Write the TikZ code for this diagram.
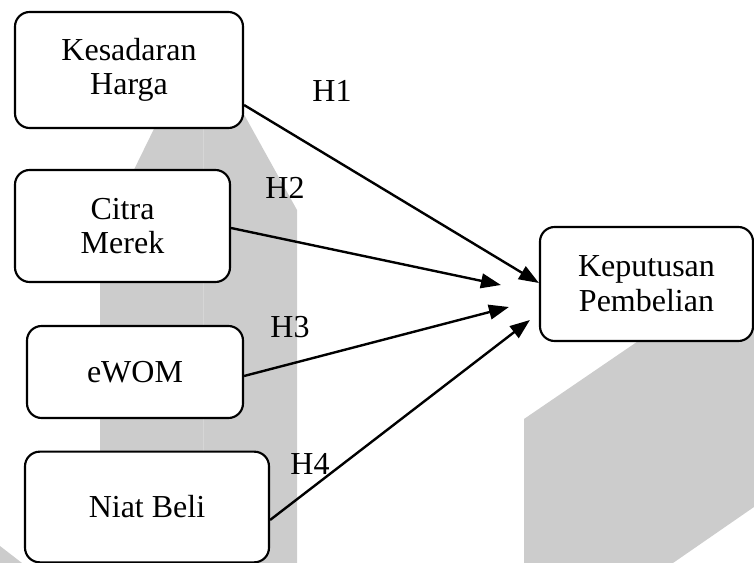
\documentclass[tikz,border=0pt]{standalone}
\usepackage{fontspec}
\setmainfont{Liberation Serif}
\usetikzlibrary{arrows.meta}

\tikzset{
  varbox/.style={draw=black, fill=white, line width=1.6pt, rounded corners=11pt, align=center, inner sep=2pt},
  hlink/.style={line width=1.8pt, -{Triangle[length=15pt,width=11pt]}},
  hlabel/.style={inner sep=0pt}
}

\begin{document}
\begin{tikzpicture}[x=0.75pt,y=0.75pt,yscale=-1,font=\fontsize{24}{26}\selectfont]
    \path[use as bounding box] (0,0) rectangle (754,563);

    %Shape: watermark left
    \fill[black!20] (100,563) -- (100,239) -- (200,35) -- (297,210) -- (297,563) -- cycle;
    \draw[black!16, line width=0.6pt] (203,40) -- (203,563);
    %Shape: watermark right
    \fill[black!20] (524,419) -- (754,262) -- (754,507) -- (673,563) -- (524,563) -- cycle;
    %Shape: watermark corner
    \fill[black!20] (0,546) -- (22,563) -- (0,563) -- cycle;

    % Boxes
    \node[varbox, minimum width=171pt, minimum height=87pt] (kh) at (129,70) {Kesadaran\\Harga};
    \node[varbox, minimum width=161.25pt, minimum height=84pt] (cm) at (122.5,226) {Citra\\Merek};
    \node[varbox, minimum width=162pt, minimum height=69pt] (ew) at (135,372) {eWOM};
    \node[varbox, minimum width=183pt, minimum height=83pt] (nb) at (147,507) {Niat Beli};
    \node[varbox, minimum width=159.75pt, minimum height=85.5pt] (kp) at (646.5,284) {Keputusan\\Pembelian};

    % arrow ends (yscale=-1, so a positive yshift goes down)
    \coordinate (t2) at ([xshift=-28.5pt,yshift=0.75pt]kp.west);
    \coordinate (t3) at ([xshift=-22.5pt,yshift=17.25pt]kp.west);
    \coordinate (t4) at ([xshift=-6.75pt,yshift=27pt]kp.west);

    %Straight Lines
    \draw[hlink] ([yshift=26.25pt]kh.east) -- ([yshift=-0.75pt]kp.west);
    \draw[hlink] ([yshift=1.5pt]cm.east) -- (t2);
    \draw[hlink] ([yshift=3pt]ew.east) -- (t3);
    \draw[hlink] ([yshift=9.75pt]nb.east) -- (t4);

    % Text Node
    \node[hlabel] (h1) at (332,91) {H1};
    % Text Node
    \node[hlabel] (h2) at (285,188) {H2};
    % Text Node
    \node[hlabel] (h3) at (290,327) {H3};
    % Text Node
    \node[hlabel] (h4) at (310,464) {H4};

\end{tikzpicture}
\end{document}
